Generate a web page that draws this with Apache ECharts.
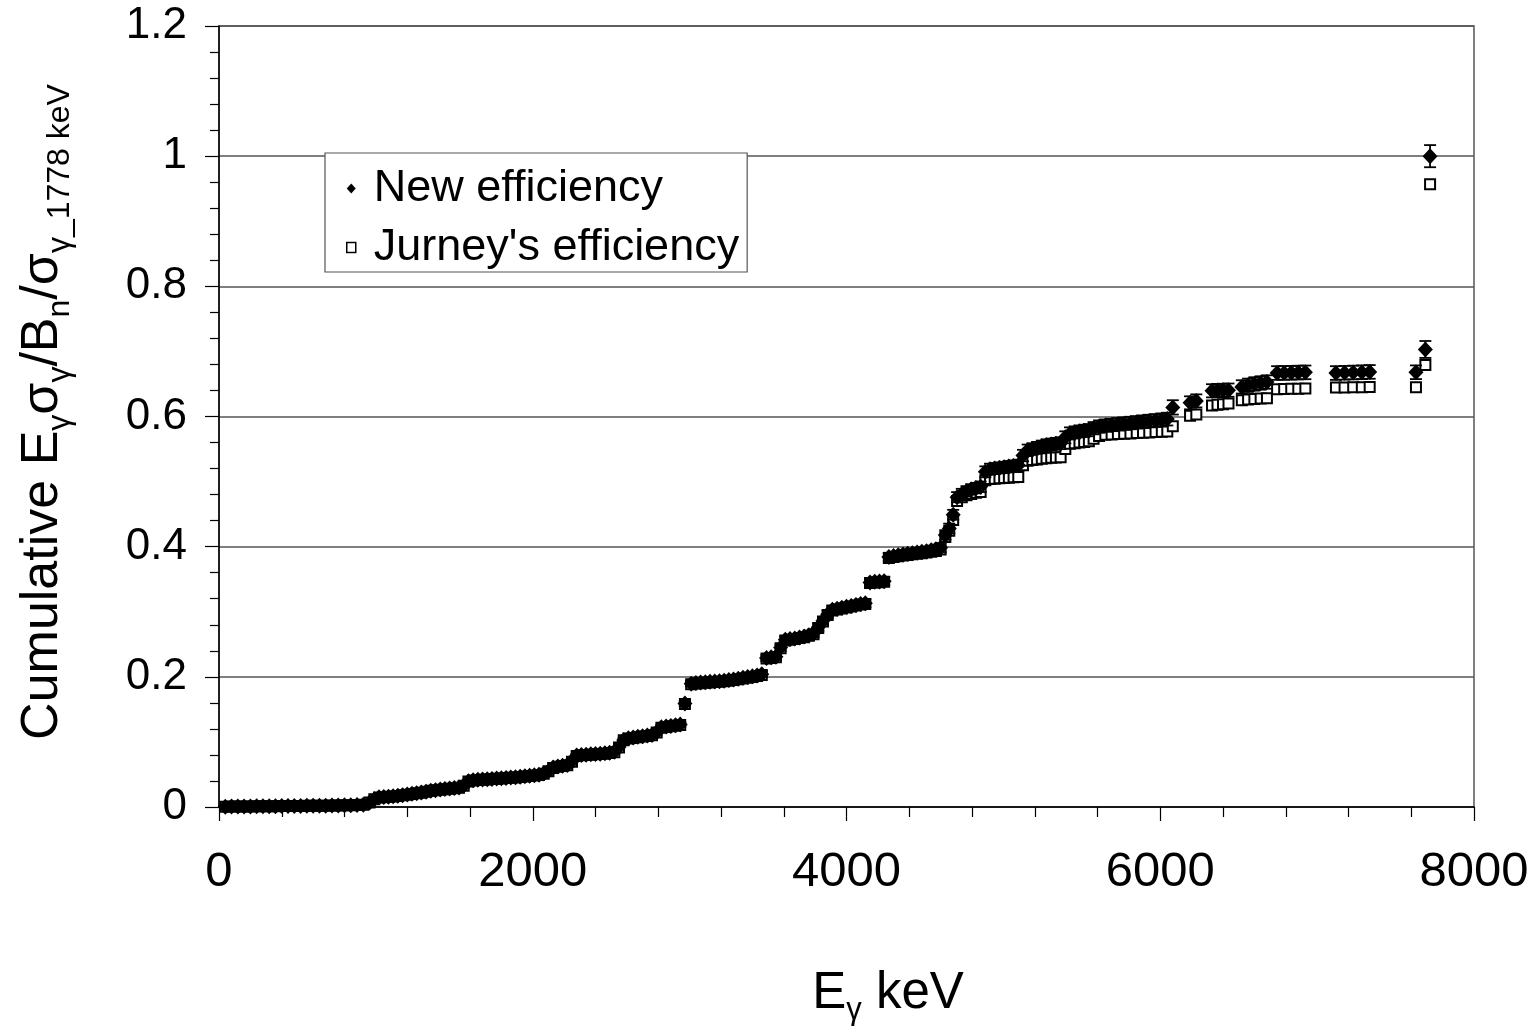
<!DOCTYPE html>
<html><head><meta charset="utf-8">
<script src="https://cdn.jsdelivr.net/npm/echarts@6/dist/echarts.min.js"></script>
<style>html,body{margin:0;padding:0;background:#fff}#c{width:1540px;height:1033px}</style>
</head><body><div id="c"></div>
<script>
// ---- data ----
const energies = [
  40,80,120,160,200,240,280,320,360,400,
  440,480,520,560,600,640,680,720,760,800,
  840,880,920,960,990,1020,1050,1080,1110,1140,
  1170,1200,1230,1260,1290,1320,1350,1380,1410,1440,
  1470,1500,1530,1560,1590,1620,1650,1680,1710,1740,
  1770,1800,1830,1860,1890,1920,1950,1980,2010,2040,
  2070,2100,2130,2160,2190,2220,2250,2280,2310,2340,
  2370,2400,2430,2460,2490,2520,2550,2580,2610,2640,
  2670,2700,2730,2760,2790,2820,2850,2880,2910,2940,
  2970,3010,3040,3070,3100,3130,3160,3190,3220,3250,
  3280,3310,3340,3370,3400,3430,3460,3490,3520,3550,
  3580,3610,3640,3670,3700,3730,3760,3790,3820,3850,
  3880,3910,3940,3970,4000,4030,4060,4090,4120,4150,
  4180,4210,4240,4270,4300,4330,4360,4390,4420,4450,
  4480,4510,4540,4570,4600,4630,4655,4680,4705,4735,
  4765,4795,4825,4855,4885,4915,4945,4975,5005,5035,
  5065,5095,5125,5155,5185,5215,5245,5275,5305,5335,
  5365,5395,5425,5455,5485,5515,5545,5575,5610,5650,
  5690,5730,5770,5810,5850,5890,5930,5970,6010,6045,
  6080,6190,6230,6330,6365,6400,6435,6520,6560,6600,
  6640,6680,6745,6790,6835,6880,6925,7120,7175,7230,
  7285,7335,7630,7690,7720
];
const newEff = [
  .0005,.0006,.0007,.0008,.0009,.0010,.0011,.0012,.0013,.0014,
  .0015,.0016,.0017,.0018,.0019,.0020,.0021,.0022,.0024,.0026,
  .0028,.0030,.0034,.0070,.0120,.0148,.0153,.0158,.0164,.0172,
  .0181,.0192,.0202,.0212,.0222,.0236,.0250,.0259,.0267,.0275,
  .0283,.0291,.0299,.0330,.0395,.0410,.0417,.0422,.0427,.0432,
  .0437,.0442,.0447,.0452,.0458,.0465,.0472,.0480,.0488,.0496,
  .0515,.0555,.0605,.0622,.0634,.0646,.0700,.0790,.0799,.0804,
  .0809,.0814,.0819,.0825,.0834,.0848,.0920,.1030,.1058,.1068,
  .1078,.1088,.1098,.1108,.1150,.1225,.1236,.1246,.1256,.1268,
  .1590,.1895,.1905,.1912,.1918,.1923,.1928,.1934,.1941,.1950,
  .1960,.1972,.1985,.1996,.2008,.2022,.2040,.2290,.2300,.2310,
  .2450,.2570,.2580,.2590,.2605,.2620,.2640,.2665,.2760,.2860,
  .2960,.3030,.3045,.3060,.3075,.3090,.3105,.3120,.3130,.3450,
  .3460,.3465,.3470,.3840,.3855,.3868,.3880,.3890,.3900,.3910,
  .3920,.3930,.3945,.3960,.3985,.4180,.4280,.4490,.4760,.4810,
  .4850,.4880,.4900,.4920,.5150,.5190,.5200,.5210,.5220,.5230,
  .5240,.5250,.5400,.5480,.5500,.5520,.5540,.5560,.5570,.5580,
  .5590,.5680,.5740,.5755,.5770,.5780,.5790,.5820,.5845,.5860,
  .5870,.5880,.5890,.5900,.5910,.5920,.5930,.5940,.5950,.5960,
  .6140,.6210,.6240,.6395,.6400,.6402,.6405,.6455,.6480,.6500,
  .6515,.6530,.6668,.6670,.6672,.6675,.6678,.6668,.6672,.6676,
  .6680,.6685,.6680,.7030,1.000
];
const newErr = [
  .0008,.0008,.0008,.0008,.0008,.0008,.0008,.0008,.0008,.0008,
  .0008,.0008,.0008,.0008,.0008,.0008,.0008,.0008,.0008,.0008,
  .0009,.0009,.0009,.0010,.0011,.0012,.0012,.0012,.0013,.0013,
  .0013,.0014,.0014,.0014,.0015,.0015,.0016,.0016,.0016,.0017,
  .0017,.0017,.0018,.0018,.0019,.0019,.0019,.0020,.0020,.0020,
  .0020,.0021,.0021,.0021,.0021,.0022,.0022,.0022,.0023,.0023,
  .0023,.0024,.0024,.0025,.0025,.0025,.0026,.0027,.0027,.0027,
  .0028,.0028,.0028,.0028,.0029,.0029,.0030,.0031,.0031,.0032,
  .0032,.0032,.0033,.0033,.0034,.0034,.0035,.0035,.0035,.0036,
  .0038,.0041,.0041,.0041,.0042,.0042,.0042,.0043,.0043,.0043,
  .0044,.0044,.0044,.0045,.0045,.0045,.0046,.0047,.0047,.0048,
  .0049,.0050,.0050,.0051,.0051,.0052,.0052,.0053,.0054,.0055,
  .0056,.0057,.0057,.0058,.0058,.0059,.0059,.0060,.0060,.0062,
  .0062,.0063,.0063,.0066,.0066,.0067,.0067,.0068,.0068,.0069,
  .0069,.0070,.0070,.0071,.0071,.0073,.0074,.0076,.0078,.0079,
  .0080,.0080,.0081,.0081,.0084,.0085,.0085,.0085,.0086,.0086,
  .0086,.0087,.0088,.0089,.0089,.0090,.0090,.0090,.0091,.0091,
  .0091,.0092,.0093,.0093,.0093,.0094,.0094,.0094,.0095,.0095,
  .0095,.0096,.0096,.0096,.0096,.0097,.0097,.0097,.0098,.0098,
  .0110,.0100,.0100,.0101,.0101,.0101,.0102,.0102,.0102,.0103,
  .0103,.0103,.0105,.0105,.0105,.0105,.0105,.0105,.0105,.0105,
  .0105,.0105,.0105,.0130,.0170
];
const jurneyEff = [
  .0005,.0006,.0007,.0008,.0009,.0010,.0011,.0012,.0013,.0014,
  .0015,.0016,.0017,.0018,.0019,.0020,.0021,.0022,.0024,.0026,
  .0028,.0030,.0034,.0069,.0118,.0146,.0151,.0156,.0162,.0170,
  .0179,.0190,.0200,.0210,.0220,.0234,.0248,.0257,.0265,.0273,
  .0281,.0289,.0297,.0327,.0392,.0407,.0414,.0419,.0424,.0429,
  .0434,.0439,.0444,.0449,.0455,.0462,.0469,.0477,.0485,.0493,
  .0512,.0551,.0600,.0617,.0629,.0641,.0695,.0785,.0794,.0799,
  .0804,.0809,.0814,.0820,.0829,.0842,.0914,.1024,.1052,.1062,
  .1072,.1082,.1092,.1102,.1143,.1218,.1229,.1239,.1249,.1261,
  .1582,.1886,.1896,.1903,.1909,.1914,.1919,.1925,.1932,.1941,
  .1951,.1963,.1976,.1987,.1999,.2013,.2030,.2280,.2290,.2300,
  .2440,.2560,.2570,.2580,.2595,.2610,.2630,.2655,.2750,.2850,
  .2950,.3020,.3035,.3050,.3065,.3080,.3095,.3110,.3120,.3440,
  .3450,.3455,.3460,.3825,.3840,.3852,.3864,.3873,.3882,.3891,
  .3900,.3909,.3922,.3935,.3958,.4150,.4245,.4410,.4700,.4760,
  .4790,.4810,.4830,.4840,.5020,.5040,.5045,.5050,.5055,.5060,
  .5065,.5070,.5250,.5320,.5330,.5340,.5350,.5360,.5365,.5370,
  .5375,.5500,.5580,.5590,.5600,.5610,.5620,.5660,.5700,.5720,
  .5725,.5730,.5735,.5740,.5745,.5750,.5755,.5760,.5765,.5770,
  .5850,.6010,.6030,.6170,.6180,.6190,.6200,.6250,.6260,.6270,
  .6275,.6280,.6420,.6422,.6425,.6428,.6430,.6445,.6447,.6449,
  .6451,.6453,.6450,.6790,.9570
];
const seriesNames = ['New efficiency', "Jurney's efficiency"];
const xMin = 0, xMax = 8000, xStep = 2000;
const yMin = 0, yMax = 1.2, yStep = 0.2;

// ---- chart ----
const FONT = '"Liberation Sans", Arial, Helvetica, sans-serif';
const chart = echarts.init(document.getElementById('c'), null, {renderer: 'canvas'});
const newData = energies.map((e, i) => [e, newEff[i]]);
const jurData = energies.map((e, i) => [e, jurneyEff[i]]);
const errData = energies.map((e, i) => [e, newEff[i], newErr[i]]);

const subY = {fontSize: 32, fontFamily: FONT, color: '#000', lineHeight: 32, verticalAlign: 'top', padding: [27, 0, 0, 0]};
const mainY = {fontSize: 52, fontFamily: FONT, color: '#000', lineHeight: 58, verticalAlign: 'top'};
const subX = {fontSize: 31, fontFamily: FONT, color: '#000', lineHeight: 31, verticalAlign: 'top', padding: [27, 0, 0, 0]};
const mainX = {fontSize: 51, fontFamily: FONT, color: '#000', lineHeight: 56, verticalAlign: 'top'};

const option = {
  animation: false,
  backgroundColor: '#fff',
  grid: {left: 219, top: 26, right: 66, bottom: 226, show: true, borderColor: '#555', borderWidth: 1.5, backgroundColor: 'transparent'},
  xAxis: {
    type: 'value', min: xMin, max: xMax, interval: xStep,
    axisLine: {show: true, onZero: false, lineStyle: {color: '#000', width: 1.5}},
    axisTick: {show: true, inside: false, length: 14, lineStyle: {color: '#000', width: 1.2}},
    minorTick: {show: true, splitNumber: 5, length: 10, lineStyle: {color: '#000', width: 1.2}},
    axisLabel: {margin: 41, fontSize: 49, color: '#000', fontFamily: FONT, formatter: v => String(v)},
    splitLine: {show: false}
  },
  yAxis: {
    type: 'value', min: yMin, max: yMax, interval: yStep,
    axisLine: {show: true, onZero: false, lineStyle: {color: '#000', width: 1.5}},
    axisTick: {show: true, inside: false, length: 14, lineStyle: {color: '#000', width: 1.2}},
    minorTick: {show: true, splitNumber: 5, length: 9, lineStyle: {color: '#000', width: 1.2}},
    axisLabel: {margin: 32, fontSize: 44, color: '#000', fontFamily: FONT, formatter: v => String(+v.toFixed(1))},
    splitLine: {show: true, lineStyle: {color: '#555', width: 1.5}}
  },
  legend: {
    orient: 'vertical', left: 325, top: 153, padding: [13, 8, 2, 21], itemGap: 14,
    itemWidth: 9, itemHeight: 10, selectedMode: false,
    borderColor: '#555', borderWidth: 1.2, backgroundColor: '#fff',
    textStyle: {fontSize: 45, lineHeight: 44, color: '#000', fontFamily: FONT, padding: [0, 0, 0, 13]},
    data: [
      {name: seriesNames[0], icon: 'diamond', itemStyle: {color: '#000'}},
      {name: seriesNames[1], icon: 'rect', itemStyle: {color: '#fff', borderColor: '#000', borderWidth: 1.5}}
    ]
  },
  series: [
    {
      name: seriesNames[1], type: 'scatter', data: jurData, z: 2,
      symbol: 'rect', symbolSize: 10,
      itemStyle: {color: '#fff', borderColor: '#000', borderWidth: 2, opacity: 1}
    },
    {
      name: seriesNames[0], type: 'scatter', data: newData, z: 3,
      symbol: 'diamond', symbolSize: [15, 16],
      itemStyle: {color: '#000', opacity: 1}
    },
    {
      name: 'errors', type: 'custom', data: errData, z: 4, silent: true,
      encode: {x: 0, y: 1},
      renderItem: (params, api) => {
        const x = api.value(0), y = api.value(1), e = api.value(2);
        const t = api.coord([x, y + e]), b = api.coord([x, y - e]);
        const w = 6, st = {stroke: '#000', lineWidth: 1.8};
        return {type: 'group', children: [
          {type: 'line', shape: {x1: t[0], y1: t[1], x2: b[0], y2: b[1]}, style: st},
          {type: 'line', shape: {x1: t[0] - w, y1: t[1], x2: t[0] + w, y2: t[1]}, style: st},
          {type: 'line', shape: {x1: b[0] - w, y1: b[1], x2: b[0] + w, y2: b[1]}, style: st}
        ]};
      }
    }
  ],
  graphic: [
    {
      type: 'text', x: 888, y: 996, z: 10,
      style: {text: '{m|E}{s|γ}{m| keV}', align: 'center', verticalAlign: 'middle', rich: {m: mainX, s: subX}}
    },
    {
      type: 'text', x: 46, y: 412, rotation: Math.PI / 2, z: 10,
      style: {text: '{m|Cumulative E}{s|γ}{m|σ}{s|γ}{m|/B}{s|n}{m|/σ}{s|γ_1778 keV}', align: 'center', verticalAlign: 'middle', rich: {m: mainY, s: subY}}
    }
  ]
};
chart.setOption(option);
</script></body></html>
